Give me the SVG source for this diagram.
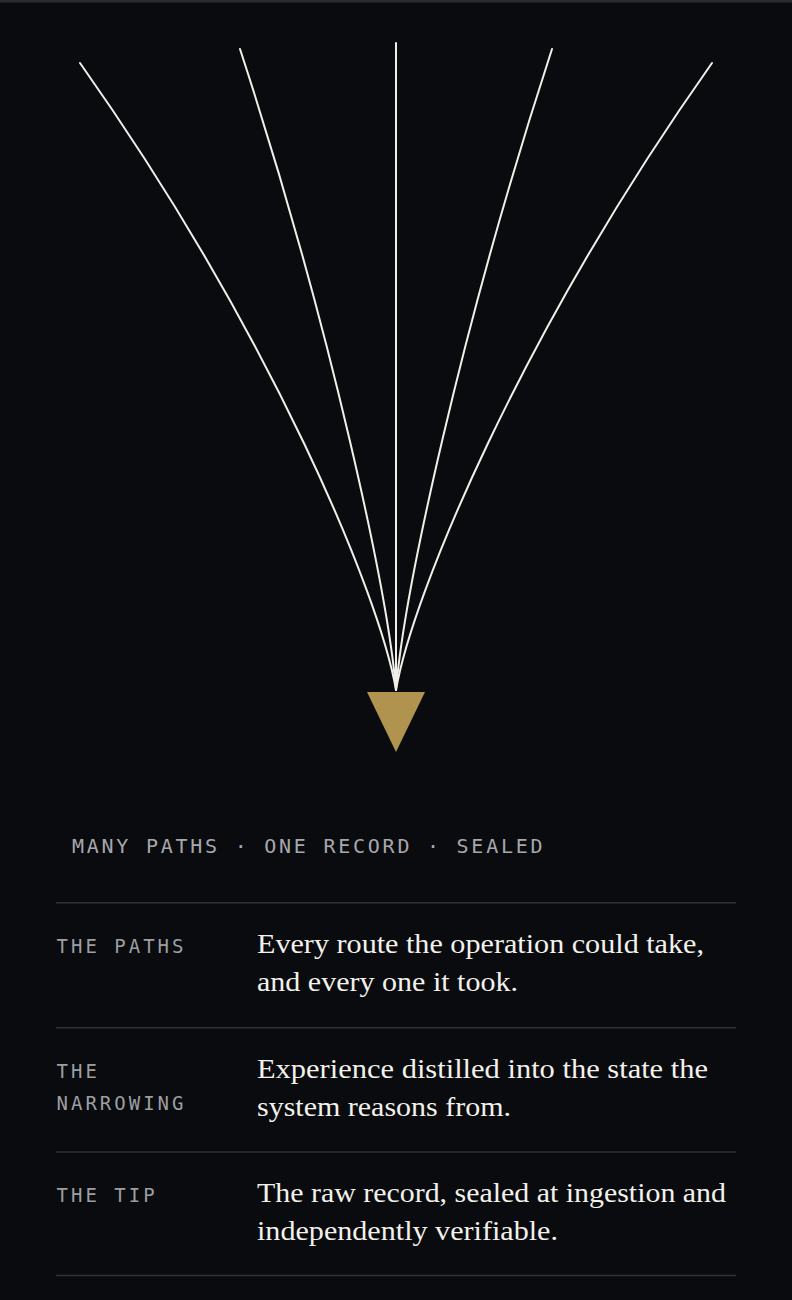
<svg xmlns="http://www.w3.org/2000/svg" width="792" height="1300" viewBox="0 0 792 1300">
  <style>
    .path { fill: none; stroke: #f1efe9; stroke-width: 2; stroke-linecap: round; }
    .sep { stroke: #313237; stroke-width: 1.6; }
    .mono { font-family: "DejaVu Sans Mono", "Liberation Mono", monospace; fill: #9d9ea3; }
    .hdr { font-size: 20px; letter-spacing: 2.75px; fill: #a7a8ad; }
    .lbl { font-size: 19px; letter-spacing: 3px; }
    .body { font-family: "Liberation Serif", "DejaVu Serif", serif; font-size: 27.5px; fill: #f3f1ec; }
  </style>
  <rect x="0" y="0" width="792" height="1300" fill="#0a0b0e"/>
  <rect x="0" y="0" width="792" height="2.5" fill="#2b2c31"/>

  <g id="connectors">
    <path class="path" d="M80,63 C272,335 380,596 396,690"/>
    <path class="path" d="M240,49 C332,331 388,594 396,690"/>
    <path class="path" d="M396,43 L396,690"/>
    <path class="path" d="M552,49 C460,331 404,594 396,690"/>
    <path class="path" d="M712,63 C520,335 412,596 396,690"/>
  </g>

  <g id="tip">
    <polygon points="367,692 425,692 396,752" fill="#b0934f"/>
  </g>

  <g id="header">
    <text class="mono hdr" x="72" y="853">MANY PATHS · ONE RECORD · SEALED</text>
  </g>

  <g id="rules">
    <line class="sep" x1="56" y1="902.7" x2="736" y2="902.7"/>
    <line class="sep" x1="56" y1="1027.7" x2="736" y2="1027.7"/>
    <line class="sep" x1="56" y1="1152" x2="736" y2="1152"/>
    <line class="sep" x1="56" y1="1275.5" x2="736" y2="1275.5"/>
  </g>

  <g id="row-paths">
    <text class="mono lbl" x="56.5" y="953.3">THE PATHS</text>
    <text class="body" x="257" y="952.7" textLength="447" lengthAdjust="spacingAndGlyphs">Every route the operation could take,</text>
    <text class="body" x="257" y="990.7" textLength="261" lengthAdjust="spacingAndGlyphs">and every one it took.</text>
  </g>

  <g id="row-narrowing">
    <text class="mono lbl" x="56.5" y="1077.7">THE</text>
    <text class="mono lbl" x="56.5" y="1110">NARROWING</text>
    <text class="body" x="257" y="1077.7" textLength="451" lengthAdjust="spacingAndGlyphs">Experience distilled into the state the</text>
    <text class="body" x="257" y="1115.7" textLength="254" lengthAdjust="spacingAndGlyphs">system reasons from.</text>
  </g>

  <g id="row-tip">
    <text class="mono lbl" x="56.5" y="1202">THE TIP</text>
    <text class="body" x="257" y="1202" textLength="469" lengthAdjust="spacingAndGlyphs">The raw record, sealed at ingestion and</text>
    <text class="body" x="257" y="1240" textLength="301" lengthAdjust="spacingAndGlyphs">independently verifiable.</text>
  </g>
</svg>
